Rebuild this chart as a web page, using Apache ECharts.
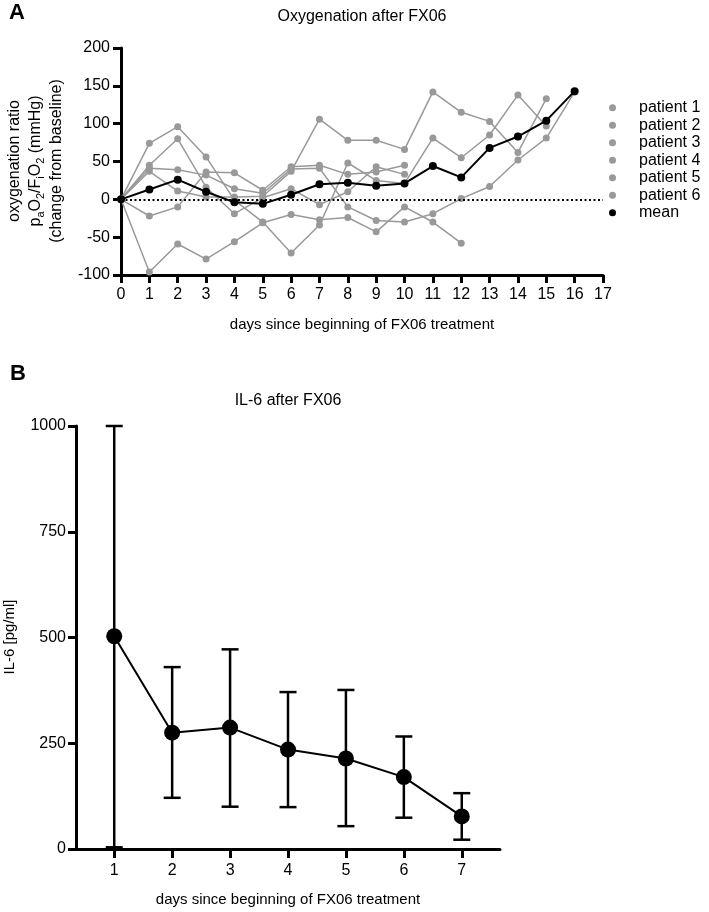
<!DOCTYPE html>
<html><head><meta charset="utf-8">
<script src="https://cdn.jsdelivr.net/npm/echarts@6/dist/echarts.min.js"></script>
<style>html,body{margin:0;padding:0;background:#fff}#c{width:709px;height:912px}</style>
</head><body><div id="c"></div>
<script>
// ---------- Panel A data ----------
const days = [0,1,2,3,4,5,6,7,8,9,10,11,12,13,14,15,16];
const patientNames = ['patient 1','patient 2','patient 3','patient 4','patient 5','patient 6'];
const patient1 = [0, 74, 96, 56, -1, -30, -71, -34, 48, 25, 21, 81, 55, 85, 138, 97];
const patient2 = [0, 45, 80, 16, -19, 2, 14, -7, 10, 43, 33];
const patient3 = [0, 41, 39, 32, 14, 8, 40, 41, -10, -28, -30, -19, 1, 17, 52, 81, 142];
const patient4 = [0, 37, 11, 3, 3, 4, 37, 106, 78, 78, 66, 142, 115, 103, 62, 133];
const patient5 = [0, -22, -10, 36, 35, 12, 43, 45, 33, 36, 45];
const patient6 = [0, -96, -59, -79, -56, -31, -20, -27, -24, -43, -10, -30, -58];
const meanA = [0, 13, 26, 10, -4, -6, 6, 20, 22, 18, 21, 44, 29, 68, 83, 104, 143];
// ---------- Panel B data ----------
const il6Days = [1, 2, 3, 4, 5, 6, 7];
const il6Mean = [503, 275, 287, 235, 214, 170, 77];
const il6Upper = [1000, 430, 472, 371, 376, 266, 132];
const il6Lower = [4, 121, 100, 99, 54, 74, 22];
const il6Ticks = [1, 2, 3, 4, 5, 6, 7];

const FONT = '"Liberation Sans", Arial, Helvetica, sans-serif';
const gray = '#999999';
const patients = [patient1, patient2, patient3, patient4, patient5, patient6];
const pairs = vals => vals.map((v, i) => [days[i], v]);

const chart = echarts.init(document.getElementById('c'), null, {renderer: 'canvas'});

const axisCommon = {
  axisLine: {show: true, onZero: false, lineStyle: {color: '#000', width: 3}},
  axisTick: {show: true, length: 8, lineStyle: {color: '#000', width: 3}},
  axisLabel: {color: '#000', fontSize: 16, fontFamily: FONT, formatter: v => String(v)},
  splitLine: {show: false}
};

const patientSeries = patients.map((p, i) => ({
  name: patientNames[i], type: 'line', xAxisIndex: 0, yAxisIndex: 0,
  data: pairs(p), symbol: 'circle', symbolSize: 7, showSymbol: true,
  itemStyle: {color: gray}, lineStyle: {color: gray, width: 1.5}, z: 2, silent: true
}));

const option = {
  animation: false,
  grid: [
    {left: 121, right: 106, top: 48, bottom: 637},
    {left: 76, right: 209, top: 426, bottom: 63}
  ],
  xAxis: [
    Object.assign({}, axisCommon, {
      type: 'value', gridIndex: 0, min: 0, max: 17, interval: 1,
      axisLabel: Object.assign({}, axisCommon.axisLabel, {margin: 12})
    }),
    Object.assign({}, axisCommon, {
      type: 'value', gridIndex: 1, min: 0.34, max: 7.66,
      axisTick: Object.assign({}, axisCommon.axisTick, {customValues: il6Ticks, length: 9}),
      axisLabel: Object.assign({}, axisCommon.axisLabel, {customValues: il6Ticks, margin: 14})
    })
  ],
  yAxis: [
    Object.assign({}, axisCommon, {
      type: 'value', gridIndex: 0, min: -100, max: 200, interval: 50,
      axisLabel: Object.assign({}, axisCommon.axisLabel, {margin: 11})
    }),
    Object.assign({}, axisCommon, {
      type: 'value', gridIndex: 1, min: 0, max: 1000, interval: 250,
      axisLabel: Object.assign({}, axisCommon.axisLabel, {margin: 10})
    })
  ],
  legend: {
    orient: 'vertical', left: 604, top: 94, itemWidth: 7, itemHeight: 7, itemGap: 0,
    icon: 'circle', selectedMode: false,
    data: patientNames.concat(['mean']),
    textStyle: {color: '#000', fontSize: 16, fontFamily: FONT, lineHeight: 17.5, padding: [0, 0, 0, 18]}
  },
  series: patientSeries.concat([
    {
      name: 'mean', type: 'line', xAxisIndex: 0, yAxisIndex: 0, data: pairs(meanA),
      symbol: 'circle', symbolSize: 8, itemStyle: {color: '#000'},
      lineStyle: {color: '#000', width: 2}, z: 4, silent: true,
      markLine: {
        silent: true, symbol: ['none', 'none'], label: {show: false},
        lineStyle: {color: '#000', type: [2, 2.5], width: 2.2},
        emphasis: {disabled: true},
        data: [{yAxis: 0}]
      }
    },
    {
      type: 'custom', xAxisIndex: 1, yAxisIndex: 1, silent: true, z: 2,
      data: il6Days.map((d, i) => [d, il6Lower[i], il6Upper[i]]),
      encode: {x: 0, y: [1, 2]},
      renderItem: (params, api) => {
        const x = api.value(0);
        const lo = api.coord([x, api.value(1)]);
        const hi = api.coord([x, api.value(2)]);
        const hw = 8.5;
        const style = {stroke: '#000', lineWidth: 2.5};
        return {type: 'group', children: [
          {type: 'line', shape: {x1: lo[0], y1: lo[1], x2: hi[0], y2: hi[1]}, style: style},
          {type: 'line', shape: {x1: hi[0] - hw, y1: hi[1], x2: hi[0] + hw, y2: hi[1]}, style: style},
          {type: 'line', shape: {x1: lo[0] - hw, y1: lo[1], x2: lo[0] + hw, y2: lo[1]}, style: style}
        ]};
      }
    },
    {
      name: 'IL-6', type: 'line', xAxisIndex: 1, yAxisIndex: 1,
      data: il6Days.map((d, i) => [d, il6Mean[i]]),
      symbol: 'circle', symbolSize: 16, itemStyle: {color: '#000'},
      lineStyle: {color: '#000', width: 2}, z: 5, silent: true
    }
  ]),
  graphic: [
    {type: 'text', style: {x: 17, y: 13, text: 'A', fill: '#000', font: 'bold 22px ' + FONT, align: 'center', verticalAlign: 'middle'}},
    {type: 'text', style: {x: 362, y: 17, text: 'Oxygenation after FX06', fill: '#000', font: '16px ' + FONT, align: 'center', verticalAlign: 'middle'}},
    {type: 'text', style: {x: 362, y: 325, text: 'days since beginning of FX06 treatment', fill: '#000', font: '15px ' + FONT, align: 'center', verticalAlign: 'middle'}},
    {type: 'text', x: 36, y: 161, rotation: Math.PI / 2, style: {
      x: 0, y: 0, align: 'center', verticalAlign: 'middle', fill: '#000',
      text: '{n|oxygenation ratio}\n{n|p}{s|a}{n|O}{s|2}{n|/F}{s|i}{n|O}{s|2}{n| (mmHg)}\n{n|(change from baseline)}',
      rich: {
        n: {fontSize: 16, fontFamily: FONT, lineHeight: 21, fill: '#000'},
        s: {fontSize: 11, fontFamily: FONT, lineHeight: 9, verticalAlign: 'bottom', fill: '#000'}
      }
    }},
    {type: 'text', style: {x: 18, y: 374, text: 'B', fill: '#000', font: 'bold 22px ' + FONT, align: 'center', verticalAlign: 'middle'}},
    {type: 'text', style: {x: 288, y: 401, text: 'IL-6 after FX06', fill: '#000', font: '16px ' + FONT, align: 'center', verticalAlign: 'middle'}},
    {type: 'text', style: {x: 288, y: 900, text: 'days since beginning of FX06 treatment', fill: '#000', font: '15px ' + FONT, align: 'center', verticalAlign: 'middle'}},
    {type: 'text', x: 10, y: 637, rotation: Math.PI / 2, style: {x: 0, y: 0, text: 'IL-6 [pg/ml]', fill: '#000', font: '15px ' + FONT, align: 'center', verticalAlign: 'middle'}}
  ]
};
chart.setOption(option);
</script>
</body></html>
